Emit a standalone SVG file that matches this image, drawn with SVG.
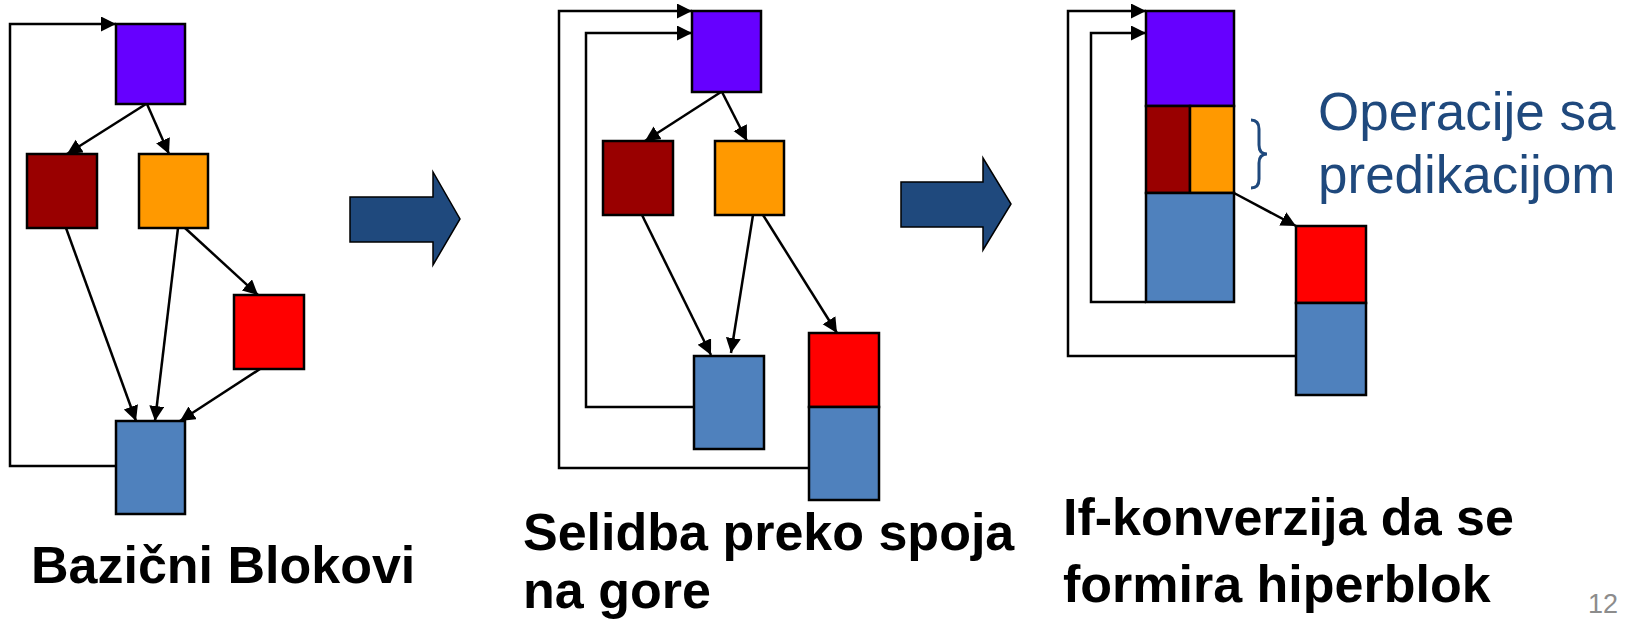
<svg xmlns="http://www.w3.org/2000/svg" width="1633" height="621" viewBox="0 0 1633 621">
<style>
.b{stroke:#000;stroke-width:2.5}
.pu{fill:#6600FF}.dr{fill:#990000}.or{fill:#FF9900}.rd{fill:#FF0000}.bl{fill:#4F81BD}
.c{fill:none;stroke:#000;stroke-width:2.5;marker-end:url(#ah)}
.big{fill:#1F497D;stroke:#000;stroke-width:1.5}
.lbl{font-family:"Liberation Sans",Arial,sans-serif;font-weight:bold;font-size:52px;fill:#000}
.op{font-family:"Liberation Sans",Arial,sans-serif;font-size:53px;fill:#1F497D}
</style>
<defs>
<marker id="ah" markerUnits="userSpaceOnUse" markerWidth="16" markerHeight="16" refX="15" refY="7.5" orient="auto">
<path d="M0,0 L15,7.5 L0,15 z" fill="#000"/>
</marker>
</defs>
<g id="connectors">
<path class="c" d="M116,466 L10,466 L10,24 L116,24"/>
<line class="c" x1="146" y1="104" x2="67" y2="154"/>
<line class="c" x1="147" y1="104" x2="169" y2="154"/>
<line class="c" x1="66" y1="228" x2="136" y2="421"/>
<line class="c" x1="178" y1="228" x2="155" y2="421"/>
<line class="c" x1="185" y1="228" x2="258" y2="295"/>
<line class="c" x1="260" y1="369" x2="180" y2="421"/>
<path class="c" d="M809,468 L559,468 L559,11 L692,11"/>
<path class="c" d="M694,407 L586,407 L586,33 L692,33"/>
<line class="c" x1="721" y1="92" x2="645" y2="141"/>
<line class="c" x1="722" y1="92" x2="747" y2="141"/>
<line class="c" x1="642" y1="215" x2="711" y2="355"/>
<line class="c" x1="753" y1="215" x2="731" y2="353"/>
<line class="c" x1="763" y1="215" x2="837" y2="333"/>
<path class="c" d="M1296,356 L1068,356 L1068,11 L1146,11"/>
<path class="c" d="M1146,302 L1091,302 L1091,33 L1146,33"/>
<line class="c" x1="1234" y1="193" x2="1296" y2="226"/>
</g>
<g id="p1-purple"><rect class="b pu" x="116" y="24" width="69" height="80"/></g>
<g id="p1-darkred"><rect class="b dr" x="27" y="154" width="70" height="74"/></g>
<g id="p1-orange"><rect class="b or" x="139" y="154" width="69" height="74"/></g>
<g id="p1-red"><rect class="b rd" x="234" y="295" width="70" height="74"/></g>
<g id="p1-blue"><rect class="b bl" x="116" y="421" width="69" height="93"/></g>
<g id="arrow1"><path class="big" d="M350,197 L433,197 L433,172 L460,219 L433,265 L433,242 L350,242 Z"/></g>
<g id="p2-purple"><rect class="b pu" x="692" y="11" width="69" height="81"/></g>
<g id="p2-darkred"><rect class="b dr" x="603" y="141" width="70" height="74"/></g>
<g id="p2-orange"><rect class="b or" x="715" y="141" width="69" height="74"/></g>
<g id="p2-blue"><rect class="b bl" x="694" y="356" width="70" height="93"/></g>
<g id="p2-red"><rect class="b rd" x="809" y="333" width="70" height="74"/></g>
<g id="p2-blue2"><rect class="b bl" x="809" y="407" width="70" height="93"/></g>
<g id="arrow2"><path class="big" d="M901,182 L983,182 L983,158 L1011,204 L983,250 L983,227 L901,227 Z"/></g>
<g id="p3-purple"><rect class="b pu" x="1146" y="11" width="88" height="95"/></g>
<g id="p3-darkred"><rect class="b dr" x="1146" y="106" width="44" height="87"/></g>
<g id="p3-orange"><rect class="b or" x="1190" y="106" width="44" height="87"/></g>
<g id="p3-blue"><rect class="b bl" x="1146" y="193" width="88" height="109"/></g>
<g id="p3-red"><rect class="b rd" x="1296" y="226" width="70" height="77"/></g>
<g id="p3-blue2"><rect class="b bl" x="1296" y="303" width="70" height="92"/></g>
<g id="brace"><path d="M1251,120 Q1259,120 1259,129 L1259,145 Q1259,154 1267,154 Q1259,154 1259,163 L1259,179 Q1259,188 1251,188" fill="none" stroke="#1F497D" stroke-width="3"/></g>
<g id="note">
<text class="op" x="1318" y="130">Operacije sa</text>
<text class="op" x="1318" y="193">predikacijom</text>
</g>
<g id="labels">
<text class="lbl" x="31" y="583">Bazični Blokovi</text>
<text class="lbl" x="523" y="550">Selidba preko spoja</text>
<text class="lbl" x="523" y="608">na gore</text>
<text class="lbl" x="1063" y="535">If-konverzija da se</text>
<text class="lbl" x="1063" y="602">formira hiperblok</text>
</g>
<text x="1588" y="613" font-family="'Liberation Sans',Arial,sans-serif" font-size="27" fill="#8C8C8C">12</text>
</svg>
